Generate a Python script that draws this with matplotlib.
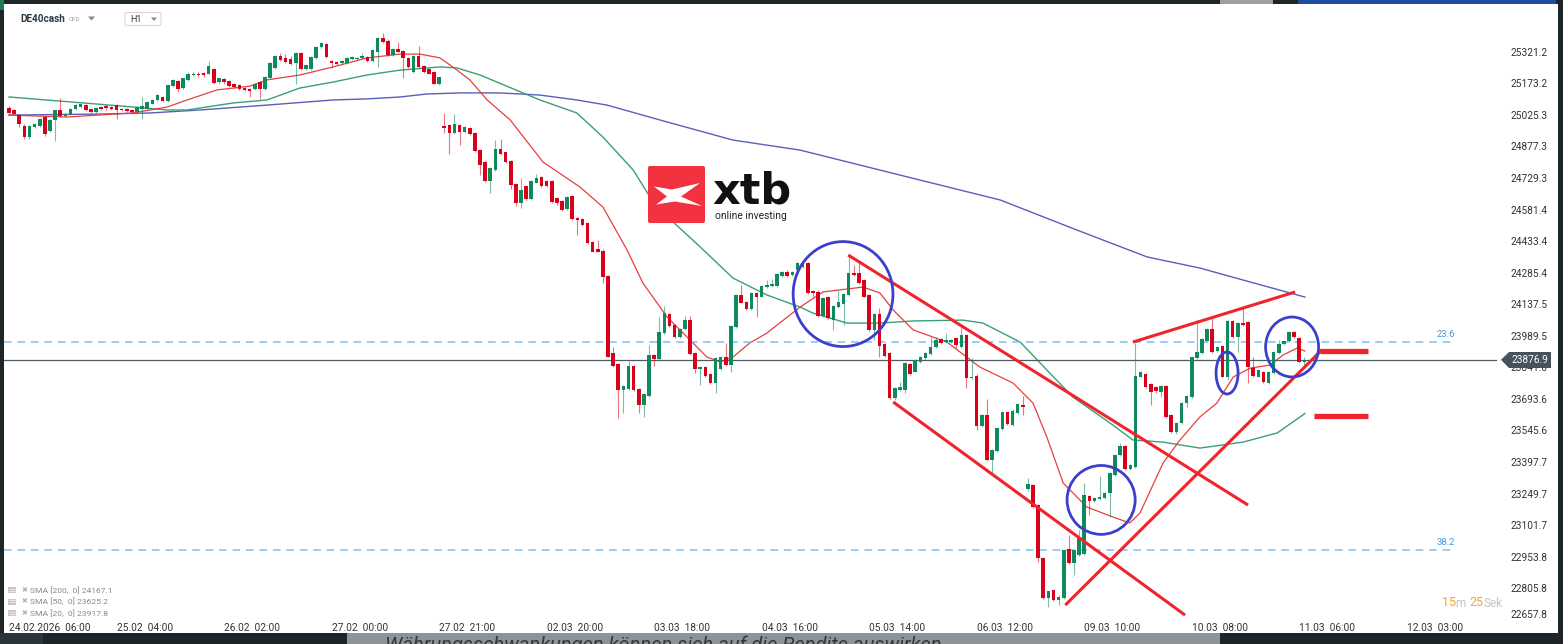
import matplotlib
matplotlib.use("Agg")
import matplotlib.pyplot as plt
from matplotlib.patches import Ellipse, FancyBboxPatch, Polygon, Rectangle

plt.rcParams['font.family'] = ['Roboto', 'DejaVu Sans']

# ---------------- data (H1 candles, DE40cash) ----------------
opens = [
    25059, 25046, 25026, 24975, 24920, 24967, 24975, 25014, 24951, 24999,
    25046, 25022, 25030, 25054, 25061, 25073, 25052, 25038, 25061, 25065,
    25061, 25070, 25054, 25051, 25049, 25038, 25054, 25054, 25078, 25093,
    25109, 25090, 25159, 25184, 25153, 25188, 25211, 25219, 25222, 25219,
    25238, 25177, 25191, 25183, 25169, 25164, 25153, 25148, 25148, 25180,
    25148, 25200, 25243, 25301, 25290, 25285, 25267, 25314, 25238, 25238,
    25290, 25345, 25357, 25278, 25274, 25267, 25267, 25286, 25286, 25290,
    25295, 25279, 25319, 25385, 25372, 25306, 25333, 25325, 25293, 25227,
    25301, 25254, 25238, 25227, 25169,
    24973, 24978, 24939, 24978, 24946,
    24965, 24940, 24862, 24806, 24715, 24767, 24865, 24849, 24810, 24701,
    24614, 24693, 24630, 24708, 24734, 24713, 24713, 24634, 24623, 24582,
    24643, 24541, 24536, 24517, 24431, 24397, 24389, 24270, 23908, 23856,
    23736, 23738, 23849, 23739, 23665, 23707, 23900, 23879, 24001, 24092,
    24040, 23982, 24020, 24065, 23909, 23833, 23842, 23811, 23770, 23832,
    23889, 23852, 24029, 24181, 24150, 24114, 24192, 24173, 24217, 24223,
    24223, 24271, 24290, 24274, 24298, 24314, 24330, 24200, 24197, 24082,
    24170, 24063, 24123, 24138, 24180, 24285, 24282, 24252, 24182, 24017,
    24092, 23950, 23909, 23697, 23736, 23735, 23858, 23822, 23868, 23884,
    23904, 23938, 23974, 23962, 23962, 23978, 23939, 23995, 23790, 23803,
    23567, 23620, 23407, 23450, 23551, 23630, 23572, 23626, 23665, 23269,
    23291, 23197, 22947, 22759, 22796, 22751, 22758, 22989, 22923, 22961,
    22966, 23240, 23216, 23223, 23228, 23251, 23336, 23430, 23473, 23364,
    23374, 23798, 23810, 23765, 23749, 23728, 23755, 23618, 23540, 23579,
    23673, 23701, 23884, 23910, 23967, 24021, 23919, 23940, 23797, 24060,
    23982, 24048, 24052, 23838, 23798, 23822, 23770, 23816, 23910, 23952,
    23963, 24005, 23978, 23868,
]
highs = [
    25065, 25051, 25030, 24980, 24978, 24988, 25012, 25018, 25004, 25050,
    25104, 25035, 25058, 25075, 25080, 25078, 25056, 25064, 25066, 25070,
    25066, 25075, 25058, 25055, 25053, 25066, 25109, 25090, 25101, 25122,
    25113, 25168, 25192, 25189, 25200, 25224, 25224, 25224, 25227, 25277,
    25243, 25200, 25196, 25187, 25173, 25168, 25157, 25152, 25176, 25184,
    25207, 25271, 25306, 25317, 25312, 25300, 25319, 25319, 25263, 25299,
    25350, 25366, 25362, 25282, 25278, 25282, 25298, 25299, 25298, 25315,
    25299, 25334, 25390, 25408, 25380, 25337, 25369, 25329, 25298, 25306,
    25348, 25258, 25243, 25231, 25205,
    25033, 24983, 25030, 24983, 24974,
    24970, 24945, 24867, 24811, 24779, 24909, 24912, 24853, 24815, 24706,
    24729, 24697, 24720, 24746, 24739, 24718, 24718, 24638, 24628, 24643,
    24648, 24545, 24540, 24521, 24436, 24439, 24394, 24275, 23939, 23860,
    23760, 23869, 23853, 23744, 23720, 23948, 23904, 24078, 24130, 24096,
    24044, 24027, 24083, 24084, 23913, 23849, 23847, 23815, 23890, 23893,
    23955, 24041, 24186, 24228, 24154, 24197, 24197, 24228, 24249, 24254,
    24285, 24295, 24299, 24292, 24335, 24338, 24335, 24204, 24202, 24170,
    24175, 24134, 24205, 24188, 24369, 24322, 24342, 24257, 24187, 24097,
    24119, 23955, 23913, 23749, 23775, 23866, 23863, 23882, 23896, 23912,
    23986, 23986, 23978, 24002, 23974, 23982, 24033, 23999, 23885, 23808,
    23623, 23691, 23459, 23561, 23639, 23634, 23644, 23675, 23708, 23321,
    23296, 23202, 22952, 22795, 22800, 22772, 22992, 23056, 22991, 23079,
    23300, 23244, 23232, 23330, 23257, 23350, 23435, 23486, 23478, 23389,
    23955, 23826, 23815, 23769, 23754, 23760, 23760, 23623, 23587, 23681,
    23713, 23894, 24065, 23978, 24025, 24084, 23941, 23944, 24062, 24065,
    24053, 24127, 24057, 23890, 23833, 23826, 23826, 23919, 23971, 23967,
    24010, 24010, 23982, 23889,
]
lows = [
    25030, 25027, 24970, 24912, 24912, 24962, 24970, 24928, 24946, 24904,
    25017, 25014, 25026, 25050, 25058, 25042, 25034, 25033, 25050, 25050,
    25048, 25007, 25042, 25038, 25034, 25034, 25007, 25050, 25074, 25088,
    25086, 25086, 25155, 25132, 25148, 25184, 25207, 25205, 25205, 25215,
    25170, 25172, 25172, 25156, 25152, 25144, 25136, 25109, 25144, 25101,
    25144, 25196, 25238, 25278, 25270, 25258, 25172, 25234, 25234, 25234,
    25285, 25340, 25294, 25245, 25258, 25263, 25263, 25282, 25282, 25285,
    25275, 25275, 25251, 25362, 25302, 25302, 25318, 25196, 25246, 25222,
    25246, 25222, 25215, 25168, 25165,
    24939, 24844, 24935, 24883, 24942,
    24930, 24853, 24744, 24711, 24660, 24762, 24839, 24800, 24676, 24598,
    24587, 24626, 24626, 24704, 24689, 24689, 24614, 24602, 24574, 24578,
    24532, 24462, 24504, 24421, 24380, 24380, 24237, 23888, 23843, 23603,
    23626, 23734, 23731, 23626, 23610, 23703, 23847, 23875, 23997, 24030,
    23977, 23977, 24016, 23900, 23814, 23759, 23796, 23765, 23720, 23828,
    23848, 23820, 24025, 24141, 24110, 24110, 24079, 24169, 24213, 24218,
    24218, 24266, 24266, 24270, 24294, 24309, 24186, 24170, 24077, 24077,
    24067, 24016, 24119, 24039, 24176, 24270, 24230, 24169, 24012, 23969,
    23891, 23890, 23693, 23689, 23732, 23719, 23807, 23818, 23864, 23880,
    23900, 23934, 23951, 23958, 23958, 23931, 23934, 23743, 23786, 23548,
    23562, 23403, 23344, 23446, 23547, 23572, 23568, 23622, 23618, 23264,
    23184, 22927, 22755, 22720, 22746, 22727, 22755, 22918, 22867, 22956,
    22961, 23149, 23211, 23218, 23223, 23140, 23332, 23426, 23358, 23360,
    23370, 23794, 23747, 23665, 23722, 23704, 23606, 23535, 23530, 23574,
    23654, 23697, 23879, 23905, 23963, 23910, 23915, 23794, 23782, 23977,
    23914, 24036, 23766, 23797, 23794, 23770, 23765, 23812, 23905, 23948,
    23959, 23978, 23863, 23837,
]
closes = [
    25033, 25030, 24980, 24920, 24975, 24983, 25007, 24936, 24999, 25046,
    25022, 25030, 25054, 25070, 25074, 25046, 25038, 25059, 25054, 25055,
    25052, 25049, 25046, 25043, 25038, 25061, 25065, 25085, 25096, 25117,
    25090, 25164, 25188, 25148, 25196, 25219, 25219, 25210, 25210, 25254,
    25175, 25196, 25177, 25161, 25156, 25148, 25140, 25137, 25172, 25148,
    25203, 25267, 25301, 25282, 25274, 25263, 25314, 25238, 25259, 25295,
    25345, 25361, 25298, 25267, 25263, 25278, 25293, 25295, 25293, 25301,
    25279, 25330, 25385, 25366, 25306, 25333, 25322, 25290, 25251, 25301,
    25251, 25227, 25219, 25172, 25201,
    24962, 24939, 24983, 24944, 24970,
    24934, 24857, 24791, 24715, 24775, 24865, 24843, 24804, 24696, 24614,
    24674, 24630, 24716, 24729, 24693, 24693, 24618, 24614, 24579, 24639,
    24536, 24530, 24509, 24425, 24384, 24384, 24264, 23892, 23847, 23735,
    23755, 23849, 23735, 23665, 23716, 23901, 23879, 24007, 24096, 24035,
    23982, 24023, 24064, 23904, 23833, 23845, 23801, 23770, 23885, 23889,
    23852, 24037, 24181, 24145, 24114, 24192, 24173, 24224, 24227, 24232,
    24280, 24290, 24271, 24287, 24330, 24333, 24191, 24189, 24082, 24165,
    24071, 24129, 24149, 24184, 24285, 24274, 24235, 24173, 24017, 24092,
    23941, 23895, 23696, 23744, 23751, 23861, 23811, 23877, 23891, 23907,
    23938, 23970, 23955, 23970, 23970, 23947, 23994, 23790, 23798, 23567,
    23619, 23407, 23454, 23556, 23634, 23576, 23639, 23670, 23654, 23295,
    23188, 22946, 22759, 22791, 22751, 22767, 22987, 22923, 22986, 23047,
    23244, 23216, 23228, 23233, 23252, 23345, 23430, 23473, 23363, 23384,
    23800, 23821, 23751, 23728, 23732, 23755, 23610, 23540, 23582, 23676,
    23708, 23890, 23915, 23973, 24020, 23915, 23936, 23798, 24057, 23982,
    24048, 24040, 23842, 23801, 23829, 23774, 23822, 23915, 23952, 23963,
    24005, 23983, 23868, 23877,
]

# moving averages (bar index, value)
sma200_bars = [0, 17.8, 27.5, 37.3, 50.4, 63.3, 69.9, 76.4, 81.6, 88.1, 95.9, 103.7, 110.9,
               116.8, 128.5, 141.4, 154.5, 174, 193.6, 208.6, 222.3, 232.6, 241, 253.1]
sma200_vals = [25024, 25029, 25034, 25048, 25071, 25095, 25100, 25109, 25123, 25128, 25128, 25118,
               25095, 25071, 24992, 24907, 24860, 24743, 24626, 24485, 24359, 24307, 24251, 24171]
sma50_bars = [0, 14.5, 24.2, 30.9, 34.8, 43.8, 50.4, 56.8, 63.3, 69.9, 76.4, 84.2, 87.5, 92,
              103.7, 110.9, 116, 121.9, 125.2, 129.7, 135, 141.4, 148, 154.5, 157, 163.7, 170.1,
              176.6, 186.3, 190.2, 197.5, 202.7, 207.8, 215.6, 219.5, 225.4, 232.6, 241, 247.7, 253.1]
sma50_vals = [25109, 25081, 25062, 25048, 25048, 25081, 25095, 25151, 25179, 25212, 25235, 25250,
              25245, 25212, 25095, 25034, 24921, 24767, 24640, 24523, 24406, 24260, 24181, 24124,
              24096, 24049, 24049, 24059, 24063, 24049, 23960, 23829, 23702, 23571, 23501, 23491,
              23463, 23491, 23534, 23625]
sma20_bars = [0, 11.3, 24.2, 30.9, 34.8, 40.6, 47.1, 50.4, 56.8, 63.3, 69.9, 76.4, 80.3, 84.2,
              87.5, 90, 93.4, 97.9, 104.3, 111.5, 116, 120.7, 123.8, 128.5, 133, 136.3, 138.9,
              141.4, 144.7, 148, 154.5, 159, 166.8, 170.1, 172.7, 176.6, 183.2, 189.6, 196.1, 200,
              202.7, 205.9, 210.5, 215.6, 218.9, 220.9, 225.4, 228.7, 232.6, 235.9, 239.1, 242.4,
              246.3, 248.8, 251.6, 253.1]
sma20_vals = [25024, 25015, 25034, 25062, 25095, 25142, 25160, 25189, 25212, 25250, 25292, 25310,
              25310, 25292, 25235, 25189, 25095, 25001, 24804, 24687, 24593, 24392, 24237, 24078,
              23970, 23890, 23867, 23890, 23956, 24002, 24124, 24195, 24218, 24190, 24110, 24017,
              23960, 23843, 23768, 23674, 23515, 23299, 23187, 23140, 23112, 23159, 23393, 23501,
              23609, 23674, 23796, 23838, 23852, 23899, 23932, 23918]

price_ticks = [25321.2, 25173.2, 25025.3, 24877.3, 24729.3, 24581.4, 24433.4, 24285.4, 24137.5,
               23989.5, 23841.6, 23693.6, 23545.6, 23397.7, 23249.7, 23101.7, 22953.8, 22805.8,
               22657.8]
time_tick_bars = [0, 21, 42, 63, 84, 105, 126, 147, 168, 189, 210, 231, 252, 273]
time_tick_labels = ['24.02.2026  06:00', '25.02  04:00', '26.02  02:00', '27.02  00:00',
                    '27.02  21:00', '02.03  20:00', '03.03  18:00', '04.03  16:00',
                    '05.03  14:00', '06.03  12:00', '09.03  10:00', '10.03  08:00',
                    '11.03  06:00', '12.03  03:00']
last_price = 23876.9
fib_levels = [23960, 22985]
fib_labels = ['23.6', '38.2']
legend_rows = ['SMA [200,  0] 24167.1', 'SMA [50,  0] 23625.2', 'SMA [20,  0] 23917.8']

# drawn annotations (bar index, price)
red_lines = [((163.9, 24368), (242.0, 23196)),
             ((172.7, 23679), (229.7, 22680)),
             ((206.3, 22727), (256.4, 23923)),
             ((219.5, 23960), (251.2, 24195))]
red_hlines = [(23918, 256.1, 265.4), (23613, 254.9, 265.4)]
blue_circles = [(162.9, 24185, 19.5, 492), (213.3, 23220, 13.3, 323),
                (237.9, 23815, 4.3, 197), (250.6, 23937, 10.35, 281)]

# ---------------- figure ----------------
W, H = 1563, 644
fig = plt.figure(figsize=(W / 100, H / 100), dpi=100)
fig.patch.set_facecolor('#1d2529')
fig.add_artist(Rectangle((4 / W, (H - 633) / H), (1558 - 4) / W, (633 - 4) / H,
                         transform=fig.transFigure, facecolor='white', edgecolor='none', zorder=-5))

ax = fig.add_axes([4 / W, (H - 621) / H, (1497 - 4) / W, (621 - 5) / H], zorder=1)
ax.set_facecolor('white')
for s in ax.spines.values():
    s.set_visible(False)
ax.set_xlim(-0.977, 290.62)
ax.set_ylim(22652.4, 25540.2)

GREEN = '#0f8a5c'
RED = '#d8001a'
xs = list(range(len(closes)))
body_col = [GREEN if c >= o else RED for o, c in zip(opens, closes)]
ax.vlines(xs, lows, highs, colors=body_col, linewidth=0.8, alpha=0.55, zorder=3)
bottoms = [min(o, c) for o, c in zip(opens, closes)]
heights = [max(abs(c - o), 4.5) for o, c in zip(opens, closes)]
ax.bar(xs, heights, bottom=bottoms, width=0.7, color=body_col, linewidth=0, zorder=4)

ax.plot(sma200_bars, sma200_vals, color='#5a5fb8', lw=1.0, zorder=2)
ax.plot(sma50_bars, sma50_vals, color='#3a9f78', lw=1.0, zorder=2)
ax.plot(sma20_bars, sma20_vals, color='#e5403f', lw=0.9, zorder=2)

for lvl, lab in zip(fib_levels, fib_labels):
    ax.hlines(lvl, -0.977, 282.4, colors='#7cc0f5', linewidth=1.1,
              linestyles=(0, (5.0, 3.8)), zorder=2)
    ax.text(282.4, lvl + 36, lab, ha='right', va='center', fontsize=6.8, color='#3f9be8')

ax.axhline(last_price, color='#4d5b63', lw=0.9, zorder=2)

for (x0, y0), (x1, y1) in red_lines:
    ax.plot([x0, x1], [y0, y1], color='#f0242c', lw=2.2, solid_capstyle='butt', zorder=6)
for y, x0, x1 in red_hlines:
    ax.plot([x0, x1], [y, y], color='#f0242c', lw=3.8, solid_capstyle='butt', zorder=6)
for cx, cy, w, h in blue_circles:
    ax.add_patch(Ellipse((cx, cy), w, h, fill=False, edgecolor='#3d3fcc', lw=2.0, zorder=7))

ax.set_xticks(time_tick_bars)
ax.set_xticklabels(time_tick_labels, ha='left')
ax.tick_params(axis='x', length=0, pad=1.5, labelsize=7.3, labelcolor='#333333')
ax.yaxis.tick_right()
ax.set_yticks(price_ticks)
ax.set_yticklabels([f'{v:.1f}' for v in price_ticks])
ax.tick_params(axis='y', length=0, pad=10, labelsize=7.3, labelcolor='#333333')
ax.get_yticklabels()[-1].set_va('bottom')

# ---------------- overlay (pixel coordinates) ----------------
ov = fig.add_axes([0, 0, 1, 1], zorder=5)
ov.set_xlim(0, W)
ov.set_ylim(H, 0)
ov.axis('off')
ov.patch.set_alpha(0)

# frame details
ov.add_patch(Rectangle((0, 0), 4, 10, color='#1f7a50', lw=0))
ov.add_patch(Rectangle((1220, 0), 53, 4, color='#9aa0a4', lw=0))
ov.add_patch(Rectangle((1298, 0), 258, 4, color='#1d4e9b', lw=0))
ov.add_patch(Rectangle((0, 633), 43, 11, color='#2a363c', lw=0))
grey = Rectangle((347, 633), 873, 11, color='#8e9397', lw=0)
ov.add_patch(grey)
t = ov.text(385, 651, 'Währungsschwankungen können sich auf die Rendite auswirken',
            fontsize=14.5, style='italic', color='#33383c', va='baseline')
t.set_clip_path(grey)

# header
ov.text(20, 19, 'DE40cash', fontsize=7.2, fontweight='bold', color='#2d3b43', va='center')
ov.text(69, 19.5, 'CFD', fontsize=4.5, color='#9a9a9a', va='center')
ov.add_patch(Polygon([(88, 16.5), (95, 16.5), (91.5, 20.5)], closed=True, color='#888888', lw=0))
ov.add_patch(FancyBboxPatch((125, 12.5), 36, 13, boxstyle='round,pad=0,rounding_size=2',
                            facecolor='white', edgecolor='#d6d6d6', lw=0.8))
ov.text(130, 19.5, 'H1', fontsize=6.5, color='#333333', va='center')
ov.add_patch(Polygon([(151, 17.5), (157, 17.5), (154, 21)], closed=True, color='#888888', lw=0))

# xtb logo
ov.add_patch(FancyBboxPatch((648, 166), 57, 57, boxstyle='round,pad=0,rounding_size=2',
                            facecolor='#f2323f', edgecolor='none'))
ov.add_patch(Polygon([(654, 186.5), (672, 189.5), (700, 183), (681, 196.5), (702, 206),
                      (675, 201.5), (656, 204.5), (667, 196.5)], closed=True,
                     facecolor='white', edgecolor='none'))
ov.text(712, 203, 'xtb', fontsize=31, fontweight='bold', color='#111111', va='baseline',
        family='DejaVu Sans')
ov.text(715, 218.5, 'online investing', fontsize=7.4, color='#222222', va='baseline')

# price tag
ov.add_patch(Polygon([(1501, 359.8), (1509, 352), (1551, 352), (1551, 368), (1509, 368)],
                     closed=True, facecolor='#44535c', edgecolor='none'))
ov.text(1530, 360.3, f'{last_price:.1f}', fontsize=7.3, color='white', ha='center', va='center')

# countdown
ov.text(1442, 603, '15', fontsize=9, color='#f5a22a', va='center')
ov.text(1455.5, 603.5, 'm', fontsize=8.5, color='#c4c4c4', va='center')
ov.text(1469.5, 603, '25', fontsize=9, color='#f5a22a', va='center')
ov.text(1483.5, 603.5, 'Sek', fontsize=8.5, color='#c4c4c4', va='center')

# indicator legend
for k, row in enumerate(legend_rows):
    yy = 590 + k * 11.7
    ov.add_patch(Rectangle((8, yy - 3), 8, 6, facecolor='#c8c8c8', edgecolor='none'))
    for dy in (-1.5, 0.5):
        ov.plot([9, 15], [yy + dy, yy + dy], color='#f4f4f4', lw=0.5)
    ov.text(21, yy, '✖', fontsize=5, color='#b0b0b0', va='center', family='DejaVu Sans')
    ov.text(30, yy, row, fontsize=6.1, color='#8a8a8a', va='center')

fig.savefig('out.png', dpi=100, facecolor=fig.get_facecolor())
